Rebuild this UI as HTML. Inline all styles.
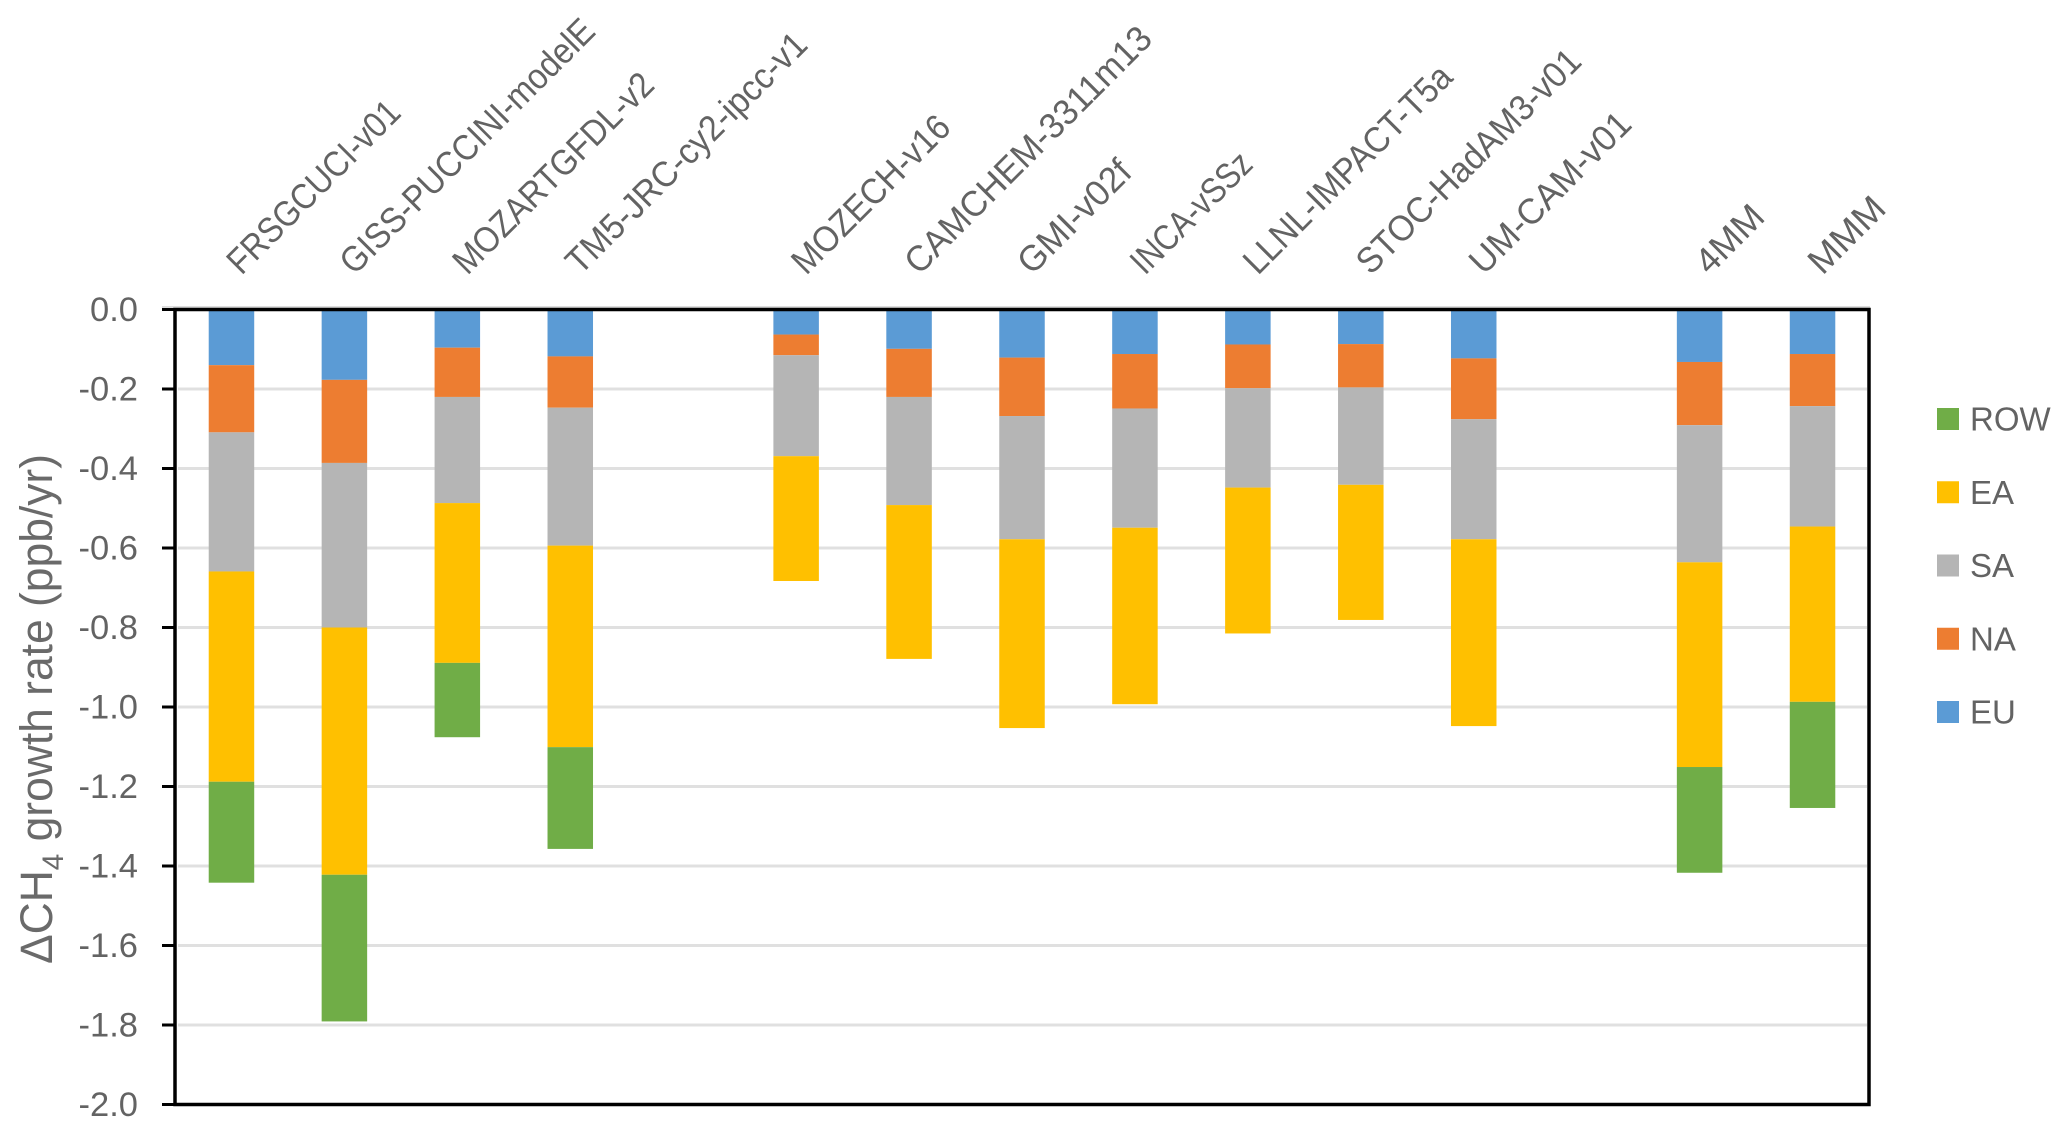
<!DOCTYPE html>
<html lang="en">
<head>
<meta charset="utf-8">
<title>Methane growth rate change by model and region</title>
<style>
html,body{margin:0;padding:0;background:#fff;}
svg{display:block;font-family:"Liberation Sans",sans-serif;}
</style>
</head>
<body>
<svg id="chart" xmlns="http://www.w3.org/2000/svg" width="2067" height="1135" viewBox="0 0 2067 1135">
  <rect x="0" y="0" width="2067" height="1135" fill="#ffffff"/>
  <g id="grid"></g>
  <g id="bars"></g>
  <g id="axes"></g>
  <g id="xlabels"></g>
  <g id="ylabels"></g>
  <text transform="translate(52,964) rotate(-90)" font-size="45" fill="#6a6a6a" textLength="510" lengthAdjust="spacingAndGlyphs">ΔCH<tspan font-size="30" dy="11">4</tspan><tspan dy="-11"> growth rate (ppb/yr)</tspan></text>
  <g id="legend"></g>
</svg>
<script>
const categories = ["FRSGCUCI-v01","GISS-PUCCINI-modelE","MOZARTGFDL-v2","TM5-JRC-cy2-ipcc-v1","","MOZECH-v16","CAMCHEM-3311m13","GMI-v02f","INCA-vSSz","LLNL-IMPACT-T5a","STOC-HadAM3-v01","UM-CAM-v01","","4MM","MMM"];
const EU  = [-0.140,-0.177,-0.096,-0.118,0,-0.063,-0.099,-0.121,-0.112,-0.088,-0.087,-0.123,0,-0.132,-0.112];
const NA  = [-0.169,-0.209,-0.124,-0.129,0,-0.052,-0.121,-0.147,-0.137,-0.110,-0.109,-0.153,0,-0.159,-0.131];
const SA  = [-0.350,-0.414,-0.267,-0.347,0,-0.254,-0.272,-0.310,-0.300,-0.250,-0.245,-0.302,0,-0.345,-0.303];
const EA  = [-0.529,-0.622,-0.402,-0.507,0,-0.314,-0.387,-0.475,-0.444,-0.367,-0.340,-0.470,0,-0.515,-0.441];
const ROW = [-0.254,-0.369,-0.187,-0.256,0,0,0,0,0,0,0,0,0,-0.266,-0.267];
const yTicks = [0,-0.2,-0.4,-0.6,-0.8,-1.0,-1.2,-1.4,-1.6,-1.8,-2.0];
const yTickLabels = ["0.0","-0.2","-0.4","-0.6","-0.8","-1.0","-1.2","-1.4","-1.6","-1.8","-2.0"];
const stackOrder = [["EU",EU,"#5B9BD5"],["NA",NA,"#ED7D31"],["SA",SA,"#B5B5B5"],["EA",EA,"#FFC000"],["ROW",ROW,"#70AD47"]];
const legendOrder = ["ROW","EA","SA","NA","EU"];
const labelFit = [0.964,0.985,0.98,1.016,1,1,1.05,1.06,0.93,1,1.02,1.06,1,1.1,1.12];

const NS = "http://www.w3.org/2000/svg";
const plot = {left:175, right:1869, top:309.5, bottom:1104.5};
const yMin = -2, yMax = 0, barWidth = 45.5;
function xScale(i){ return plot.left + (i + 0.5) * (plot.right - plot.left) / categories.length; }
function yScale(v){ return plot.top + (yMax - v) / (yMax - yMin) * (plot.bottom - plot.top); }
function make(tag, parent, attrs){
  const el = document.createElementNS(NS, tag);
  for (const k in attrs) el.setAttribute(k, attrs[k]);
  parent.appendChild(el);
  return el;
}
const gGrid = document.getElementById("grid");
const gBars = document.getElementById("bars");
const gAxes = document.getElementById("axes");
const gX = document.getElementById("xlabels");
const gY = document.getElementById("ylabels");
const gLegend = document.getElementById("legend");

yTicks.forEach(function(t, i){
  const y = yScale(t);
  if (t !== 0 && t !== -2) {
    const g = make("line", gGrid, {x1:plot.left+3, x2:plot.right-2, y1:y, y2:y, stroke:"#e0e0e0", "stroke-width":3});
    
    
  }
  const tk = make("line", gAxes, {x1:162, x2:plot.left, y1:y, y2:y, stroke:"#000", "stroke-width":3});
  
  
  const lb = make("text", gY, {x:138, y:y+11.5, "text-anchor":"end", "font-size":34.5, fill:"#636363"});
  lb.textContent = yTickLabels[i];
  
  
});

categories.forEach(function(name, i){
  if (!name) return;
  let acc = 0;
  stackOrder.forEach(function(s){
    const v = s[1][i];
    if (v === 0) return;
    const y1 = yScale(acc);
    const y2 = yScale(acc + v);
    const r = make("rect", gBars, {x:xScale(i)-barWidth/2, y:y1, width:barWidth, height:y2-y1, fill:s[2]});
    
    
    acc += v;
  });
  const x = xScale(i) + 10, y = 276;
  const t = make("text", gX, {x:x, y:y, "font-size":33, fill:"#636363", transform:"rotate(-45 "+x+" "+y+")"});
  t.textContent = name;
  
  
  const natural = t.getComputedTextLength();
  t.setAttribute("font-size", 36);
  t.setAttribute("textLength", natural * labelFit[i]);
  t.setAttribute("lengthAdjust", "spacingAndGlyphs");
});

const topHalo = make("line", gAxes, {x1:162, x2:plot.right+1, y1:307, y2:307, stroke:"#dddddd", "stroke-width":2});



const frame = make("rect", gAxes, {x:plot.left, y:plot.top, width:plot.right-plot.left, height:plot.bottom-plot.top, fill:"none", stroke:"#000", "stroke-width":3.5});



legendOrder.forEach(function(key, i){
  const s = stackOrder.find(function(e){ return e[0] === key; });
  const cy = 419 + i * 73.25;
  const sw = make("rect", gLegend, {x:1937, y:cy-11, width:22, height:22, fill:s[2]});
  
  
  const tx = make("text", gLegend, {x:1970, y:cy+11.5, "font-size":33, fill:"#636363"});
  tx.textContent = key;
  
  
});
</script>
</body>
</html>
